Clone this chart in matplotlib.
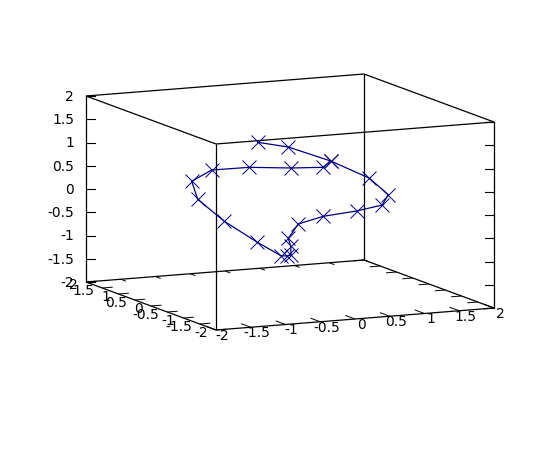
import matplotlib
matplotlib.use("Agg")
import matplotlib.pyplot as plt

W, H = 548, 460

# box corners in figure pixels, gnuplot style view
ORIGIN = (216, 331)      # x=-2, y=-2, z=-2
X_VEC = (69.5, -5.5)     # one x unit
Y_VEC = (-32.5, -12.0)   # one y unit
Z_VEC = (0.0, -46.5)     # one z unit

x_ticks = [-2, -1.5, -1, -0.5, 0, 0.5, 1, 1.5, 2]
x_labels = ["-2", "-1.5", "-1", "-0.5", "0", "0.5", "1", "1.5", "2"]
y_ticks = [-2, -1.5, -1, -0.5, 0, 0.5, 1, 1.5, 2]
y_labels = ["-2", "-1.5", "-1", "-0.5", "0", "0.5", "1", "1.5", "2"]
z_ticks = [-2, -1.5, -1, -0.5, 0, 0.5, 1, 1.5, 2]
z_labels = ["-2", "-1.5", "-1", "-0.5", "0", "0.5", "1", "1.5", "2"]

# curve, taken on the y=0 plane
curve_x = [-0.465, -0.024, 0.586, 1.137, 1.414, 1.328, 0.960, 0.479, 0.119, -0.024, 0.010, 0.014,
           -0.047, -0.129, -0.470, -0.945, -1.328, -1.414, -1.127, -0.586, 0.019, 0.471, 0.586]
curve_z = [1.339, 1.185, 0.812, 0.382, -0.010, -0.221, -0.307, -0.364, -0.487, -0.778, -0.954, -1.141,
           -1.156, -1.140, -0.811, -0.303, 0.215, 0.613, 0.821, 0.815, 0.729, 0.690, 0.812]


def project(x, y, z):
    px = ORIGIN[0] + (x + 2) * X_VEC[0] + (y + 2) * Y_VEC[0] + (z + 2) * Z_VEC[0]
    py = ORIGIN[1] + (x + 2) * X_VEC[1] + (y + 2) * Y_VEC[1] + (z + 2) * Z_VEC[1]
    return px, py


def seg(ax, a, b, lw=0.9):
    pa, pb = project(*a), project(*b)
    ax.plot([pa[0], pb[0]], [pa[1], pb[1]], color="black", lw=lw,
            solid_capstyle="butt", zorder=2)


fig = plt.figure(figsize=(W / 100, H / 100), dpi=100)
ax = fig.add_axes([0, 0, 1, 1])
ax.set_xlim(0, W)
ax.set_ylim(H, 0)
ax.axis("off")

# box: base, top, and the verticals
for a, b in [((-2, -2, -2), (2, -2, -2)), ((2, -2, -2), (2, 2, -2)),
             ((2, 2, -2), (-2, 2, -2)), ((-2, 2, -2), (-2, -2, -2)),
             ((-2, -2, 2), (2, -2, 2)), ((2, -2, 2), (2, 2, 2)),
             ((2, 2, 2), (-2, 2, 2)), ((-2, 2, 2), (-2, -2, 2)),
             ((-2, -2, -2), (-2, -2, 2)), ((2, 2, -2), (2, 2, 2)),
             ((-2, 2, -2), (-2, 2, 2)), ((2, -2, -2), (2, -2, 2))]:
    seg(ax, a, b)

tick_y = 0.3
tick_back = 0.16
tick_x = 0.15
for t, lab in zip(x_ticks, x_labels):
    seg(ax, (t, -2, -2), (t, -2 + tick_y, -2), lw=0.7)
    seg(ax, (t, 2, -2), (t, 2 - tick_back, -2), lw=0.7)
    px, py = project(t, -2, -2)
    ax.text(px + 6, py + 5, lab, fontsize=10, ha="center", va="center")
for t, lab in zip(y_ticks, y_labels):
    seg(ax, (-2, t, -2), (-2 + tick_x, t, -2), lw=0.7)
    seg(ax, (2, t, -2), (2 - tick_x, t, -2), lw=0.7)
    px, py = project(-2, t, -2)
    ax.text(px - 8, py + 2.5, lab, fontsize=10, ha="right", va="center")
for t, lab in zip(z_ticks, z_labels):
    px, py = project(-2, 2, t)
    ax.plot([px, px + 9], [py, py], color="black", lw=0.8, zorder=2)
    qx, qy = project(2, -2, t)
    ax.plot([qx - 9, qx], [qy, qy], color="black", lw=0.8, zorder=2)
    ax.text(px - 12, py, lab, fontsize=10, ha="right", va="center")

sx, sy = zip(*[project(x, 0, z) for x, z in zip(curve_x, curve_z)])
ax.plot(sx, sy, color="#000080", lw=0.9, zorder=3, marker="x", markersize=9.6,
        markeredgewidth=0.7)

fig.savefig("out.png", dpi=100)
